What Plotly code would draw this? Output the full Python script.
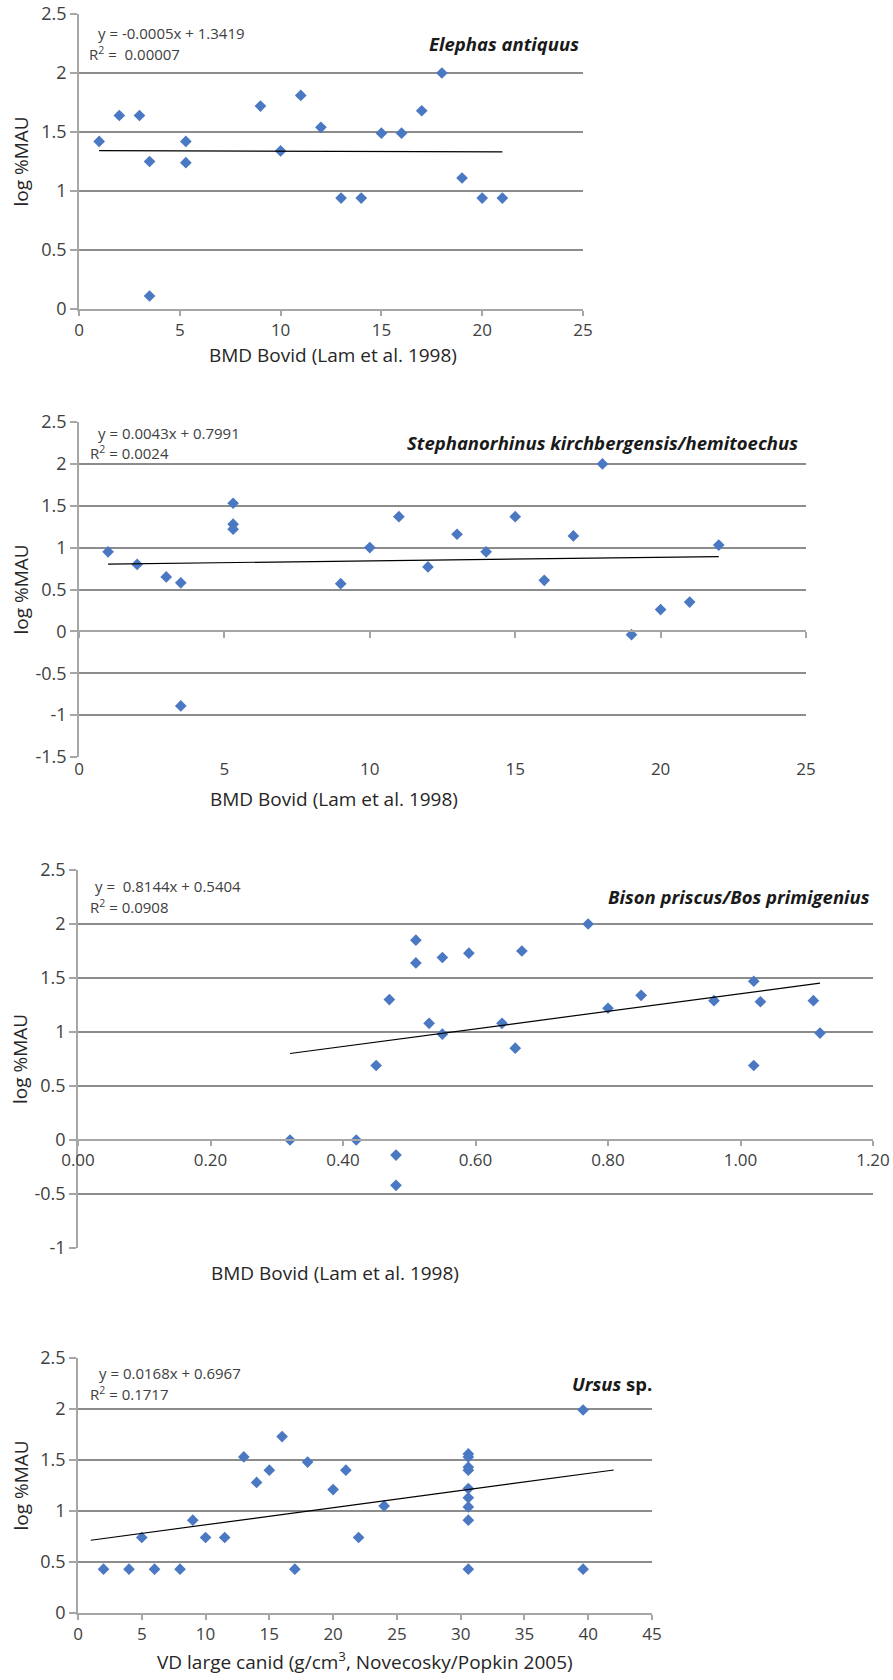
import plotly.graph_objects as go

W, H = 893, 1680

# ---------------- data ----------------
# Panel 1: Elephas antiquus
ele_x = [1, 2, 3, 3.5, 3.5, 5.3, 5.3, 9, 10, 11, 12, 13, 14, 15, 16, 17, 18, 19, 20, 21]
ele_y = [1.42, 1.64, 1.64, 1.25, 0.11, 1.42, 1.24, 1.72, 1.34, 1.81, 1.54, 0.94, 0.94,
         1.49, 1.49, 1.68, 2.0, 1.11, 0.94, 0.94]

# Panel 2: Stephanorhinus kirchbergensis/hemitoechus
ste_x = [1, 2, 3, 3.5, 3.5, 5.3, 5.3, 5.3, 9, 10, 11, 12, 13, 14, 15, 16, 17, 18, 19, 20, 21, 22]
ste_y = [0.95, 0.80, 0.65, 0.58, -0.89, 1.53, 1.28, 1.22, 0.57, 1.00, 1.37, 0.77, 1.16, 0.95,
         1.37, 0.61, 1.14, 2.00, -0.04, 0.26, 0.35, 1.03]

# Panel 3: Bison priscus/Bos primigenius
bis_x = [0.32, 0.42, 0.45, 0.47, 0.48, 0.48, 0.51, 0.51, 0.53, 0.55, 0.55, 0.59, 0.64, 0.66,
         0.67, 0.77, 0.80, 0.85, 0.96, 1.02, 1.02, 1.03, 1.11, 1.12]
bis_y = [0.0, 0.0, 0.69, 1.30, -0.14, -0.42, 1.85, 1.64, 1.08, 1.69, 0.98, 1.73, 1.08, 0.85,
         1.75, 2.00, 1.22, 1.34, 1.29, 1.47, 0.69, 1.28, 1.29, 0.99]

# Panel 4: Ursus sp.
urs_x = [2, 4, 5, 6, 8, 9, 10, 11.5, 13, 14, 15, 16, 17, 18, 20, 21, 22, 24,
         30.6, 30.6, 30.6, 30.6, 30.6, 30.6, 30.6, 30.6, 30.6, 39.6, 39.6]
urs_y = [0.43, 0.43, 0.74, 0.43, 0.43, 0.91, 0.74, 0.74, 1.53, 1.28, 1.40, 1.73, 0.43, 1.48,
         1.21, 1.40, 0.74, 1.05, 1.56, 1.53, 1.43, 1.40, 1.22, 1.13, 1.04, 0.91, 0.43, 1.99, 0.43]

# linear trend lines (Excel) : slope, intercept, x extent
trend_slope = [-0.0005, 0.0043, 0.8144, 0.0168]
trend_icpt = [1.3419, 0.7991, 0.5404, 0.6967]
trend_x = [[1, 21], [1, 22], [0.32, 1.12], [1, 42]]

eq_lines = ["y = -0.0005x + 1.3419", "y = 0.0043x + 0.7991", "y =  0.8144x + 0.5404", "y = 0.0168x + 0.6967"]
r2_lines = ["R<sup>2</sup> =  0.00007", "R<sup>2</sup> = 0.0024", "R<sup>2</sup> = 0.0908", "R<sup>2</sup> = 0.1717"]
species = ["<b><i>Elephas antiquus</i></b>",
           "<b><i>Stephanorhinus kirchbergensis/hemitoechus</i></b>",
           "<b><i>Bison priscus/Bos primigenius</i></b>",
           "<b><i>Ursus</i> sp.</b>"]
x_titles = ["BMD Bovid (Lam et al. 1998)", "BMD Bovid (Lam et al. 1998)",
            "BMD Bovid (Lam et al. 1998)", "VD large canid (g/cm<sup>3</sup>, Novecosky/Popkin 2005)"]
y_title = "log %MAU"

x_ranges = [[0, 25], [0, 25], [0, 1.2], [0, 45]]
x_dticks = [5, 5, 0.2, 5]
y_ranges = [[0, 2.5], [-1.5, 2.5], [-1, 2.5], [0, 2.5]]
y_tickvals = [[0, 0.5, 1, 1.5, 2, 2.5],
              [-1.5, -1, -0.5, 0, 0.5, 1, 1.5, 2, 2.5],
              [-1, -0.5, 0, 0.5, 1, 1.5, 2, 2.5],
              [0, 0.5, 1, 1.5, 2, 2.5]]
y_ticktext = [["0", "0.5", "1", "1.5", "2", "2.5"],
              ["-1.5", "-1", "-0.5", "0", "0.5", "1", "1.5", "2", "2.5"],
              ["-1", "-0.5", "0", "0.5", "1", "1.5", "2", "2.5"],
              ["0", "0.5", "1", "1.5", "2", "2.5"]]

# ---------------- layout geometry (pixels) ----------------
# plot boxes: left, right, top, bottom
boxes = [(79, 583, 14, 309), (79, 806, 422, 757), (78, 873, 870, 1248), (78, 652, 1358, 1613)]
eq_pos = [((96, 33), (87, 53)), ((96, 433), (88, 453)), ((93, 886), (88, 906)), ((97, 1373), (88, 1393))]
sp_pos = [(581, 43), (800, 443), (872, 896), (654, 1383)]
xt_pos = [(333, 355), (334, 799), (335, 1273), (365, 1661)]
yt_x = 20

FONT = "Open Sans"
TXT = "#404040"
GRID = "#8c8c8c"
AXL = "#a6a6a6"
BLUE = "#4a78c2"


def px(x):
    return x / W


def py(y):
    return 1 - y / H


fig = go.Figure()
data = [(ele_x, ele_y), (ste_x, ste_y), (bis_x, bis_y), (urs_x, urs_y)]

for i, (xs, ys) in enumerate(data):
    n = i + 1
    xa = "x" if n == 1 else f"x{n}"
    ya = "y" if n == 1 else f"y{n}"
    fig.add_trace(go.Scatter(x=xs, y=ys, mode="markers", xaxis=xa, yaxis=ya,
                             marker=dict(symbol="diamond", size=9, color=BLUE),
                             showlegend=False, hoverinfo="x+y"))
    tx = trend_x[i]
    ty = [trend_slope[i] * v + trend_icpt[i] for v in tx]
    txa = "x5" if n == 2 else xa
    fig.add_trace(go.Scatter(x=tx, y=ty, mode="lines", xaxis=txa, yaxis=ya,
                             line=dict(color="#000000", width=1.2),
                             showlegend=False, hoverinfo="skip"))

layout = dict(width=W, height=H, margin=dict(l=0, r=0, t=0, b=0, pad=0, autoexpand=False),
              paper_bgcolor="white", plot_bgcolor="white",
              font=dict(family=FONT, color=TXT, size=18), annotations=[])

for i in range(4):
    n = i + 1
    l, r, t, b = boxes[i]
    xd = [px(l), px(r)]
    yd = [py(b), py(t)]
    xk = "xaxis" if n == 1 else f"xaxis{n}"
    yk = "yaxis" if n == 1 else f"yaxis{n}"
    xa = "x" if n == 1 else f"x{n}"
    ya = "y" if n == 1 else f"y{n}"
    ymin, ymax = y_ranges[i]
    zero_pos = yd[0] + (0 - ymin) / (ymax - ymin) * (yd[1] - yd[0])

    xax = dict(domain=xd, range=x_ranges[i], dtick=x_dticks[i], tick0=0, automargin=False,
               showgrid=False, zeroline=False, showline=True, linecolor=AXL, linewidth=1.5,
               ticks="outside", ticklen=5, tickcolor=AXL, tickwidth=1.5,
               tickfont=dict(size=17, color=TXT), fixedrange=True)
    if n == 1 or n == 4:
        xax["anchor"] = ya
    elif n == 3:
        xax["anchor"] = "free"
        xax["position"] = zero_pos
        xax["tickformat"] = ".2f"
    else:  # panel 2: labels at the bottom, tick marks on the zero line (x5)
        xax["anchor"] = ya
        xax["ticks"] = ""
        xax["showline"] = False
        layout["xaxis5"] = dict(overlaying="x2", anchor="free", position=zero_pos,
                                range=x_ranges[i], dtick=x_dticks[i], tick0=0, automargin=False,
                                showticklabels=False, showgrid=False, zeroline=False,
                                showline=True, linecolor=AXL, linewidth=1.5,
                                ticks="outside", ticklen=6, tickcolor=AXL, tickwidth=1.5,
                                fixedrange=True)
    layout[xk] = xax

    layout[yk] = dict(domain=yd, range=y_ranges[i], tickmode="array", automargin=False,
                      tickvals=y_tickvals[i], ticktext=y_ticktext[i], anchor=xa,
                      showgrid=True, gridcolor=GRID, gridwidth=2, zeroline=False,
                      showline=True, linecolor=AXL, linewidth=1.5,
                      ticks="outside", ticklen=7, tickcolor=AXL, tickwidth=1.5,
                      tickfont=dict(size=18, color=TXT), fixedrange=True)

    (e1x, e1y), (e2x, e2y) = eq_pos[i]
    layout["annotations"] += [
        dict(text=eq_lines[i], x=px(e1x), y=py(e1y), xref="paper", yref="paper",
             xanchor="left", yanchor="middle", showarrow=False, font=dict(size=15, color=TXT)),
        dict(text=r2_lines[i], x=px(e2x), y=py(e2y), xref="paper", yref="paper",
             xanchor="left", yanchor="middle", showarrow=False, font=dict(size=15, color=TXT)),
        dict(text=species[i], x=px(sp_pos[i][0]), y=py(sp_pos[i][1]), xref="paper", yref="paper",
             xanchor="right", yanchor="middle", showarrow=False, font=dict(size=18.5, color="#1a1a1a")),
        dict(text=x_titles[i], x=px(xt_pos[i][0]), y=py(xt_pos[i][1]), xref="paper", yref="paper",
             xanchor="center", yanchor="middle", showarrow=False, font=dict(size=19, color="#262626")),
        dict(text=y_title, x=px(yt_x), y=py((t + b) / 2), xref="paper", yref="paper", textangle=-90,
             xanchor="center", yanchor="middle", showarrow=False, font=dict(size=19, color="#262626")),
    ]

fig.update_layout(**layout)
fig.write_html("out.html", config={"displayModeBar": False},
               post_script="document.body.style.margin='0';document.body.style.overflow='hidden';")
